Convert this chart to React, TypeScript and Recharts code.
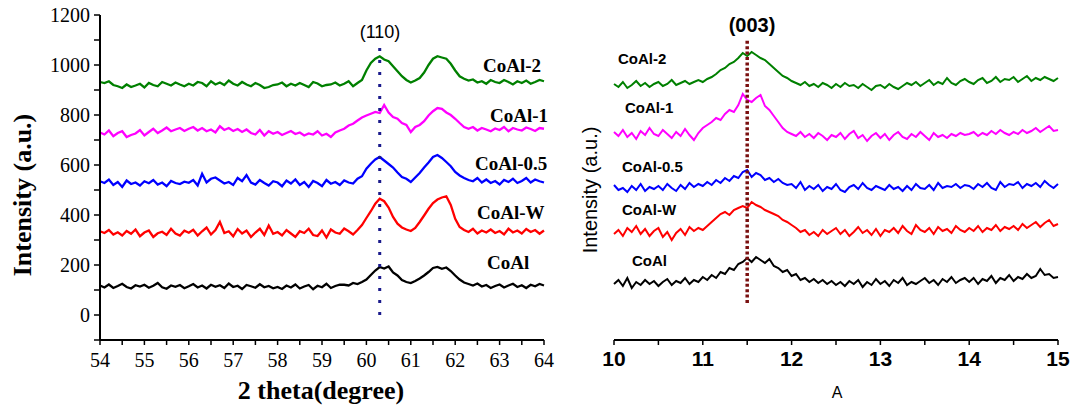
import { Line, LineChart, ReferenceLine, XAxis, YAxis } from "recharts";

// ---- left panel: 2 theta 54..64, step 0.1 ----
const THETA_START = 54;
const THETA_STEP = 0.1;

const coalLeft = [
  118, 110, 122, 108, 116, 125, 112, 106, 119, 114, 121, 109, 117, 128, 111, 105, 118, 113, 120, 107,
  115, 124, 110, 118, 106, 121, 113, 119, 108, 126, 112, 117, 104, 120, 115, 109, 123, 111, 116, 107,
  112, 104, 118, 110, 122, 106, 114, 120, 103, 117, 111, 125, 108, 116, 121, 121, 118, 128, 124, 132,
  142, 160, 178, 192, 186, 194, 170, 158, 140, 132,
  128, 136, 146, 158, 172, 188, 192, 185, 190, 176,
  158, 142, 130, 124, 118, 126, 114, 120, 108, 116,
  122, 110, 118, 125, 112, 119, 108, 121, 115, 124, 118,
];
const coalWLeft = [
  335, 328, 340, 322, 331, 318, 336, 325, 342, 315, 330, 338, 312, 327, 333, 320, 345, 326, 318, 337,
  329, 341, 318, 335, 350, 322, 340, 372, 328, 335, 315, 344, 326, 338, 312, 330, 345, 320, 358, 325,
  332, 318, 340, 326, 312, 335, 328, 345, 320, 316, 338, 310, 342, 330, 325, 346, 335, 322, 340, 360,
  388, 415, 445, 465, 455, 430, 392, 365, 350, 342,
  336, 348, 372, 398, 425, 448, 462, 470, 475, 440,
  385, 352, 340, 332, 345, 326, 338, 330, 342, 328,
  336, 322, 345, 330, 338, 326, 344, 332, 340, 325, 338,
];
const coal05Left = [
  535, 528, 542, 520, 532, 512, 538, 524, 530, 518, 535, 527, 540, 522, 530, 515, 536, 528, 524, 533,
  529, 540, 518, 565, 530, 545, 550, 538, 526, 532, 520, 548, 535, 560, 530, 522, 540, 528, 518, 535,
  530, 515, 538, 526, 542, 520, 532, 512, 536, 528, 515, 540, 525, 532, 520, 538, 530, 526, 545, 555,
  585, 605, 622, 632, 618, 604, 590, 570, 552, 545,
  532, 550, 568, 590, 610, 632, 640, 628, 612, 595,
  572, 558, 548, 540, 535, 548, 530, 542, 528, 536,
  522, 540, 532, 545, 528, 536, 548, 530, 542, 535, 530,
];
const coal1Left = [
  730, 722, 738, 715, 728, 735, 712, 720, 726, 740, 718, 732, 745, 728, 738, 750, 735, 742, 748, 736,
  745, 752, 738, 748, 735, 742, 730, 755, 740, 748, 736, 744, 732, 742, 728, 722, 740, 718, 735, 725,
  732, 720, 728, 736, 724, 730, 718, 726, 722, 735, 718, 725, 712, 730, 738, 745, 758, 765, 778, 790,
  798, 805, 812, 808, 840, 810, 792, 785, 768, 760,
  732, 752, 760, 775, 798, 815, 828, 825, 810, 800,
  785, 768, 752, 745, 752, 738, 748, 742, 735, 746,
  740, 752, 735, 748, 742, 738, 750, 744, 736, 748, 745,
];
const coal2Left = [
  932, 928, 935, 920, 915, 908, 922, 912, 918, 925, 910, 928, 920, 915, 932, 925, 918, 930, 922, 915,
  925, 918, 932, 928, 915, 935, 922, 930, 920, 938, 925, 918, 932, 922, 915, 928, 920, 908, 912, 920,
  922, 930, 915, 925, 918, 928, 920, 912, 932, 926, 915, 920, 922, 930, 918, 925, 935, 915, 928, 940,
  978, 1008, 1025, 1035, 1022, 1015, 995, 975, 955, 940,
  930, 938, 948, 970, 1000, 1025, 1035, 1030, 1025, 1005,
  978, 955, 945, 938, 942, 930, 935, 925, 940, 932,
  928, 940, 932, 922, 935, 928, 938, 925, 932, 940, 935,
];

const leftXTicks = [54, 54.5, 55, 55.5, 56, 56.5, 57, 57.5, 58, 58.5, 59, 59.5, 60, 60.5, 61, 61.5, 62, 62.5, 63, 63.5, 64];
const leftYTicks = [-100, 0, 100, 200, 300, 400, 500, 600, 700, 800, 900, 1000, 1100, 1200];
const leftYLabels = [0, 200, 400, 600, 800, 1000, 1200];

// ---- right panel: A 10..15, step 0.05 ----
const A_START = 10;
const A_STEP = 0.05;

const coalRight = [
  56, 60, 54, 62, 52, 58, 55, 60, 56, 59,
  54, 58, 61, 55, 59, 57, 62, 56, 60, 58,
  63, 60, 65, 62, 68, 66, 72, 70, 76, 78,
  82, 78, 83, 80, 77, 81, 74, 72, 68, 70,
  64, 66, 60, 62, 58, 61, 57, 60, 56, 59,
  55, 58, 54, 59, 56, 60, 53, 58, 55, 61,
  56, 59, 54, 60, 57, 62, 55, 58, 56, 59,
  62, 57, 60, 55, 61, 58, 63, 57, 60, 62,
  58, 62, 56, 61, 59, 64, 57, 62, 60, 65,
  59, 63, 61, 66, 62, 64, 71, 65, 66, 62, 63,
];
const coalWRight = [
  106, 110, 104, 112, 108, 114, 106, 111, 104, 109,
  112, 103, 108, 100, 107, 111, 105, 113, 109, 112,
  110, 114, 118, 122, 126, 128, 125, 130, 132, 134,
  132, 138, 135, 133, 130, 128, 126, 124, 120, 118,
  115, 112, 108, 110, 105, 108, 104, 110, 106, 109,
  112, 106, 110, 104, 108, 113, 107, 110, 105, 111,
  104, 110, 108, 112, 107, 114, 109, 106, 115, 110,
  108, 112, 106, 113, 109, 111, 107, 114, 110, 108,
  112, 109, 114, 108, 112, 110, 115, 109, 113, 111,
  114, 110, 116, 112, 115, 118, 113, 117, 120, 114, 116,
];
const coal05Right = [
  155, 150, 152, 148, 154, 150, 156, 149, 153, 151,
  154, 150, 156, 152, 149, 155, 151, 157, 153, 156,
  154, 158, 155, 160, 157, 162, 159, 164, 162, 168,
  170, 163, 167, 165, 160, 162, 158, 161, 157, 155,
  156, 152, 158, 150, 154, 151, 155, 149, 153, 151,
  156, 150, 148, 153, 155, 151, 157, 152, 150, 154,
  152, 150, 155, 151, 153, 149, 154, 150, 156, 152,
  151, 155, 150, 157, 152, 154, 153, 156, 152, 155,
  154, 151, 156, 153, 157, 152, 150, 158, 153, 156,
  155, 158, 152, 156, 154, 157, 153, 159, 155, 152, 156,
];
const coal1Right = [
  208, 204, 210, 203, 207, 201, 209, 205, 212, 206,
  204, 210, 206, 202, 208, 204, 211, 205, 200, 207,
  212, 215, 218, 222, 220, 226, 230, 228, 235, 246,
  240, 238, 242, 245, 234, 230, 224, 218, 212, 208,
  206, 204, 208, 203, 206, 202, 207, 204, 200, 205,
  203, 207, 201, 206, 209, 202, 205, 199, 204, 207,
  202, 206, 200, 205, 208, 203, 201, 206, 203, 208,
  204, 200, 207, 203, 205, 202, 206, 204, 207, 205,
  206, 208, 204, 207, 205, 209, 206, 210, 207, 205,
  208, 206, 210, 207, 209, 212, 208, 211, 214, 209, 210,
];
const coal2Right = [
  256, 253, 258, 252, 255, 259, 254, 257, 253, 256,
  258, 254, 256, 260, 255, 257, 259, 256, 258, 260,
  258, 261, 263, 266, 270, 272, 276, 278, 282, 287,
  284, 288, 285, 282, 280, 276, 272, 268, 264, 262,
  259, 257, 255, 258, 254, 256, 253, 257, 255, 252,
  256, 253, 257, 254, 255, 252, 256, 253, 250, 254,
  255, 252, 256, 253, 251, 254, 257, 255, 258, 254,
  257, 260, 255, 258, 256, 262, 257, 255, 259, 261,
  258, 256, 260, 262, 257, 259, 263, 258, 261, 260,
  263, 258, 261, 264, 259, 262, 260, 263, 261, 259, 262,
];

const rightXTicks = [10, 10.5, 11, 11.5, 12, 12.5, 13, 13.5, 14, 14.5, 15];
const rightYTicks = [10, 26, 42, 57, 73, 89, 105, 120, 136, 152, 168, 183, 199, 215, 231, 246, 262, 278, 294, 310];

const seriesKeys = ["coal", "coalW", "coal05", "coal1", "coal2"];
const seriesColors = ["#000000", "#ff0000", "#0000ff", "#ff00ff", "#008000"];
const seriesNames = ["CoAl", "CoAl-W", "CoAl-0.5", "CoAl-1", "CoAl-2"];

const leftRows = coalLeft.map((v, i) => ({
  x: +(THETA_START + i * THETA_STEP).toFixed(2),
  coal: v,
  coalW: coalWLeft[i],
  coal05: coal05Left[i],
  coal1: coal1Left[i],
  coal2: coal2Left[i],
}));

const rightRows = coalRight.map((v, i) => ({
  x: +(A_START + i * A_STEP).toFixed(2),
  coal: v,
  coalW: coalWRight[i],
  coal05: coal05Right[i],
  coal1: coal1Right[i],
  coal2: coal2Right[i],
}));

const SERIF = "'Liberation Serif', 'Times New Roman', serif";
const SANS = "'Liberation Sans', Arial, sans-serif";
const axisStyle = { stroke: "#000", strokeWidth: 2 };
const tickStyle = { stroke: "#000", strokeWidth: 1.5 };

function LeftXTick(props: any) {
  const { x, y, payload } = props;
  if (!Number.isInteger(payload.value)) return null;
  return (
    <text x={x} y={y} dy="0.71em" textAnchor="middle" fontFamily={SERIF} fontSize={20} fill="#000">
      {payload.value}
    </text>
  );
}

function LeftYTick(props: any) {
  const { x, y, payload } = props;
  if (!leftYLabels.includes(payload.value)) return null;
  return (
    <text x={x} y={y} dy="0.35em" textAnchor="end" fontFamily={SERIF} fontSize={20} fill="#000">
      {payload.value}
    </text>
  );
}

function RightXTick(props: any) {
  const { x, y, payload } = props;
  if (!Number.isInteger(payload.value)) return null;
  return (
    <text x={x} y={y} dy="0.71em" textAnchor="middle" fontFamily={SANS} fontWeight="bold" fontSize={21} fill="#000">
      {payload.value}
    </text>
  );
}

export default function App() {
  return (
    <div style={{ position: "absolute", left: 0, top: 0, width: 1073, height: 410, background: "#fff" }}>
      <div style={{ position: "absolute", left: 0, top: 0 }}>
        <LineChart width={560} height={410} data={leftRows} margin={{ top: 15, right: 16, bottom: 30, left: 40 }}>
          <XAxis
            xAxisId="b"
            dataKey="x"
            type="number"
            domain={[54, 64]}
            ticks={leftXTicks}
            interval={0}
            height={40}
            tickSize={5}
            tickMargin={8}
            axisLine={axisStyle}
            tickLine={tickStyle}
            tick={<LeftXTick />}
          />
          <XAxis
            xAxisId="t"
            dataKey="x"
            type="number"
            orientation="top"
            domain={[54, 64]}
            ticks={leftXTicks}
            interval={0}
            height={0}
            mirror
            tickSize={3}
            axisLine={axisStyle}
            tickLine={tickStyle}
            tick={false}
          />
          <YAxis
            yAxisId="l"
            type="number"
            domain={[-100, 1200]}
            ticks={leftYTicks}
            interval={0}
            width={60}
            tickSize={6}
            tickMargin={4}
            axisLine={axisStyle}
            tickLine={tickStyle}
            tick={<LeftYTick />}
          />
          <YAxis
            yAxisId="r"
            orientation="right"
            type="number"
            domain={[-100, 1200]}
            ticks={leftYTicks}
            interval={0}
            width={0}
            mirror
            tickSize={5}
            axisLine={axisStyle}
            tickLine={tickStyle}
            tick={false}
          />
          {seriesKeys.map((k, i) => (
            <Line
              key={k}
              xAxisId="b"
              yAxisId="l"
              dataKey={k}
              stroke={seriesColors[i]}
              strokeWidth={2.3}
              dot={false}
              isAnimationActive={false}
            />
          ))}
          <ReferenceLine
            xAxisId="b"
            yAxisId="l"
            segment={[{ x: 60.3, y: 0 }, { x: 60.3, y: 1080 }]}
            stroke="#1a1a8c"
            strokeWidth={3}
            strokeDasharray="3 9"
          />
        </LineChart>
      </div>

      <div style={{ position: "absolute", left: 560, top: 0 }}>
        <LineChart width={513} height={410} data={rightRows} margin={{ top: 15, right: 15, bottom: 30, left: 54 }}>
          <XAxis
            xAxisId="b"
            dataKey="x"
            type="number"
            domain={[10, 15]}
            ticks={rightXTicks}
            interval={0}
            height={40}
            tickSize={5}
            tickMargin={6}
            axisLine={axisStyle}
            tickLine={tickStyle}
            tick={<RightXTick />}
          />
          <XAxis
            xAxisId="t"
            dataKey="x"
            type="number"
            orientation="top"
            domain={[10, 15]}
            ticks={rightXTicks}
            interval={0}
            height={0}
            mirror
            tickSize={3}
            axisLine={axisStyle}
            tickLine={tickStyle}
            tick={false}
          />
          <YAxis
            yAxisId="l"
            type="number"
            domain={[0, 325]}
            ticks={rightYTicks}
            interval={0}
            width={0}
            mirror
            tickSize={3}
            axisLine={axisStyle}
            tickLine={tickStyle}
            tick={false}
          />
          <YAxis
            yAxisId="r"
            orientation="right"
            type="number"
            domain={[0, 325]}
            ticks={rightYTicks}
            interval={0}
            width={0}
            mirror
            tickSize={3}
            axisLine={axisStyle}
            tickLine={tickStyle}
            tick={false}
          />
          {seriesKeys.map((k, i) => (
            <Line
              key={k}
              xAxisId="b"
              yAxisId="l"
              dataKey={k}
              stroke={seriesColors[i]}
              strokeWidth={2}
              dot={false}
              isAnimationActive={false}
            />
          ))}
          <ReferenceLine
            xAxisId="b"
            yAxisId="l"
            segment={[{ x: 11.5, y: 37 }, { x: 11.5, y: 300 }]}
            stroke="#7a1010"
            strokeWidth={3.5}
            strokeDasharray="3 2.4"
          />
        </LineChart>
      </div>

      <svg width={1073} height={410} style={{ position: "absolute", left: 0, top: 0, pointerEvents: "none" }}>
        {/* left panel titles */}
        <text x={22} y={195} transform="rotate(-90 22 195)" textAnchor="middle" dominantBaseline="central"
          fontFamily={SERIF} fontWeight="bold" fontSize={26} fill="#000">
          Intensity (a.u.)
        </text>
        <text x={321} y={390} textAnchor="middle" dominantBaseline="central"
          fontFamily={SERIF} fontWeight="bold" fontSize={26} fill="#000">
          2 theta(degree)
        </text>
        <text x={380} y={32} textAnchor="middle" dominantBaseline="central" fontFamily={SANS} fontSize={18} fill="#000">
          (110)
        </text>
        <g fontFamily={SERIF} fontWeight="bold" fontSize={19} fill="#000">
          <text x={487} y={262} dominantBaseline="central">{seriesNames[0]}</text>
          <text x={477} y={212} dominantBaseline="central">{seriesNames[1]}</text>
          <text x={475} y={163} dominantBaseline="central">{seriesNames[2]}</text>
          <text x={490} y={115} dominantBaseline="central">{seriesNames[3]}</text>
          <text x={483} y={65} dominantBaseline="central">{seriesNames[4]}</text>
        </g>

        {/* right panel titles */}
        <text x={590} y={190} transform="rotate(-90 590 190)" textAnchor="middle" dominantBaseline="central"
          fontFamily={SANS} fontSize={20} fill="#000">
          Intensity (a.u.)
        </text>
        <text x={837} y={392} textAnchor="middle" dominantBaseline="central" fontFamily={SANS} fontSize={16} fill="#000">
          A
        </text>
        <text x={752} y={25} textAnchor="middle" dominantBaseline="central" fontFamily={SANS} fontWeight="bold" fontSize={20} fill="#000">
          (003)
        </text>
        <g fontFamily={SANS} fontWeight="bold" fontSize={15} fill="#000">
          <text x={632} y={260} dominantBaseline="central">{seriesNames[0]}</text>
          <text x={622} y={209} dominantBaseline="central">{seriesNames[1]}</text>
          <text x={622} y={166} dominantBaseline="central">{seriesNames[2]}</text>
          <text x={625} y={107} dominantBaseline="central">{seriesNames[3]}</text>
          <text x={618} y={58} dominantBaseline="central">{seriesNames[4]}</text>
        </g>
      </svg>
    </div>
  );
}
